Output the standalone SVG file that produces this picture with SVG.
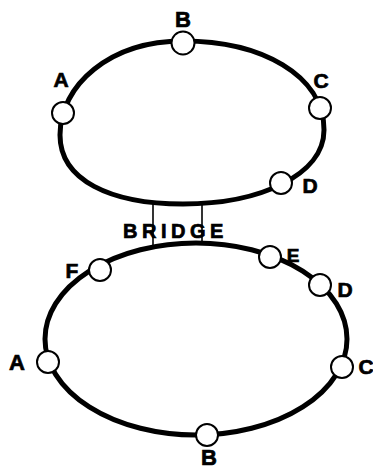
<svg xmlns="http://www.w3.org/2000/svg" width="373" height="470" viewBox="0 0 373 470">
<style>
.ring{fill:none;stroke:#000;stroke-width:5}
.br{stroke:#000;stroke-width:1.6}
.node{fill:#fff;stroke:#000;stroke-width:2}
.lbl{font-family:"Liberation Sans",Arial,sans-serif;font-weight:bold;font-size:21px;fill:#000;stroke:#000;stroke-width:0.7;text-anchor:middle}
</style>
<rect width="373" height="470" fill="#fff"/>
<g id="connectors">
<path class="ring" d="M183,41 C261,41 324,75 324,130 C324,175 260,204 183,204 C110,204 60,180 60,135 C60,85 110,41 183,41 Z"/>
<ellipse class="ring" cx="196" cy="339" rx="151" ry="96"/>
<line class="br" x1="153" y1="204" x2="153" y2="246"/>
<line class="br" x1="202" y1="203" x2="202" y2="244"/>
</g>
<g id="top-B"><circle class="node" cx="183" cy="43" r="11.5"/><text class="lbl" x="183" y="27" style="font-size:22px">B</text></g>
<g id="top-A"><circle class="node" cx="63" cy="113" r="11"/><text class="lbl" x="61" y="87">A</text></g>
<g id="top-C"><circle class="node" cx="320" cy="108" r="11"/><text class="lbl" x="321" y="88">C</text></g>
<g id="top-D"><circle class="node" cx="281" cy="183" r="11"/><text class="lbl" x="310" y="193">D</text></g>
<g id="bridge"><text class="lbl" x="123" y="238" style="text-anchor:start;font-size:20px;letter-spacing:4.5px">BRIDGE</text></g>
<g id="bot-F"><circle class="node" cx="100" cy="270" r="11"/><text class="lbl" x="72" y="278">F</text></g>
<g id="bot-E"><circle class="node" cx="270" cy="257" r="11"/><text class="lbl" x="293" y="262" style="font-size:19px">E</text></g>
<g id="bot-D"><circle class="node" cx="320" cy="285" r="11"/><text class="lbl" x="345" y="297">D</text></g>
<g id="bot-A"><circle class="node" cx="48" cy="362" r="11"/><text class="lbl" x="17" y="370" style="font-size:22px">A</text></g>
<g id="bot-C"><circle class="node" cx="342" cy="367" r="11"/><text class="lbl" x="366" y="374">C</text></g>
<g id="bot-B"><circle class="node" cx="207" cy="435" r="11"/><text class="lbl" x="209" y="465" style="font-size:22px">B</text></g>
</svg>
